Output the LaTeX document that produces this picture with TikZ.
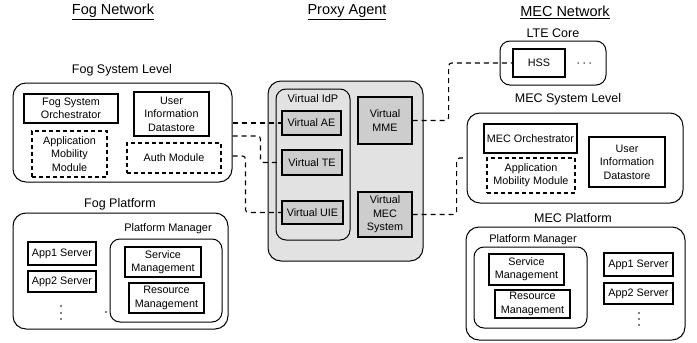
\documentclass[tikz,border=0pt]{standalone}
\usepackage{fontspec}
\setmainfont{Liberation Sans}
\usetikzlibrary{calc}
\definecolor{proxyfill}{HTML}{E2E2E2}
\definecolor{vfill}{HTML}{CDCDCD}
\begin{document}
\begin{tikzpicture}[x=1pt,y=-1pt,
  corners/.style n args={4}{at={({(#1+#3)/2},{(#2+#4)/2})}, minimum width={#3-#1}, minimum height={#4-#2}},
  group/.style={draw, rounded corners=13pt, line width=1pt, inner sep=0pt},
  sgroup/.style={draw, rounded corners=10pt, line width=1pt, inner sep=0pt},
  box/.style={draw, line width=1.3pt, inner sep=0pt, align=center, font=\fontsize{10.8}{13.4}\selectfont},
  dbox/.style={box, dash pattern=on 4pt off 3pt},
  vbox/.style={box, fill=vfill},
  conn/.style={draw, line width=1.1pt, dash pattern=on 5pt off 4pt, rounded corners=3pt},
  title/.style={font=\fontsize{14.5}{16}\selectfont},
  glabel/.style={font=\fontsize{12.5}{14}\selectfont},
  slabel/.style={font=\fontsize{11}{13}\selectfont},
  dotmark/.style={circle, fill=black, inner sep=0pt, minimum size=1.8pt}]
\useasboundingbox (0,0) rectangle (697,343);

% titles
\node[title] (tfog) at (113,12) {\underline{Fog Network}};
\node[title] (tproxy) at (347,12) {\underline{Proxy Agent}};
\node[title] (tmec) at (565,12) {\underline{MEC Network}};

% Fog System Level
\node[glabel] (lfogsys) at (122,70) {Fog System Level};
\node[group, corners={13}{83}{232}{182}] (fogsys) {};
\node[box, corners={24}{94}{118}{123}] (fogorch) {Fog System\\Orchestrator};
\node[box, corners={134}{92}{209}{136}] (foguid) {User\\Information\\Datastore};
\node[dbox, corners={32}{131}{107}{177}] (fogamm) {Application\\Mobility\\Module};
\node[dbox, corners={127}{143}{221}{173}] (fogauth) {Auth Module};

% Fog Platform
\node[glabel] (lfogplat) at (120,204) {Fog Platform};
\node[group, corners={13}{213}{228}{329}] (fogplat) {};
\node[slabel] (lfogpm) at (168,229) {Platform Manager};
\node[sgroup, corners={110}{239}{222}{322}] (fogpm) {};
\node[box, corners={125}{247}{201}{277}] (fogsm) {Service\\Management};
\node[box, corners={129}{283}{204}{313}] (fogrm) {Resource\\Management};
\node[box, corners={28}{242}{96}{265}] (fogapp1) {App1 Server};
\node[box, corners={28}{271}{96}{292}] (fogapp2) {App2 Server};
\node[dotmark] (fogd1) at (61,306) {};
\node[dotmark] (fogd2) at (61,313) {};
\node[dotmark] (fogd3) at (61,319) {};
\node[dotmark] (fogdot) at (106,312) {};

% Proxy Agent
\node[group, fill=proxyfill, corners={268}{81}{423}{261}] (proxy) {};
\node[sgroup, fill=proxyfill, corners={276}{89}{350}{240}] (idp) {};
\node[slabel] (lidp) at (313,99) {Virtual IdP};
\node[vbox, corners={282}{111}{341}{135}] (vae) {Virtual AE};
\node[vbox, corners={282}{150}{342}{175}] (vte) {Virtual TE};
\node[vbox, corners={282}{201}{343}{224}] (vuie) {Virtual UIE};
\node[vbox, corners={358}{97}{412}{144}] (vmme) {Virtual\\MME};
\node[vbox, corners={358}{192}{412}{237}] (vmec) {Virtual\\MEC\\System};

% LTE Core
\node[glabel] (llte) at (553,33) {LTE Core};
\node[sgroup, corners={500}{41}{606}{85}] (lte) {};
\node[box, corners={513}{49}{565}{77}] (hss) {HSS};
\node[dotmark, minimum size=1.5pt] (lted1) at (578,63) {};
\node[dotmark, minimum size=1.5pt] (lted2) at (584,63) {};
\node[dotmark, minimum size=1.5pt] (lted3) at (590,63) {};

% MEC System Level
\node[glabel] (lmecsys) at (568,99) {MEC System Level};
\node[group, corners={467}{113}{683}{203}] (mecsys) {};
\node[box, corners={484}{124}{577}{153}] (mecorch) {MEC Orchestrator};
\node[dbox, corners={487}{158}{575}{193}] (mecamm) {Application\\Mobility Module};
\node[box, corners={589}{137}{665}{187}] (mecuid) {User\\Information\\Datastore};

% MEC Platform
\node[glabel] (lmecplat) at (573,218) {MEC Platform};
\node[group, corners={466}{227}{685}{340}] (mecplat) {};
\node[slabel] (lmecpm) at (533,240) {Platform Manager};
\node[sgroup, corners={474}{247}{587}{328}] (mecpm) {};
\node[box, corners={489}{254}{564}{285}] (mecsm) {Service\\Management};
\node[box, corners={495}{290}{570}{318}] (mecrm) {Resource\\Management};
\node[box, corners={604}{253}{673}{276}] (mecapp1) {App1 Server};
\node[box, corners={604}{283}{673}{304}] (mecapp2) {App2 Server};
\node[dotmark] (mecd1) at (639,313) {};
\node[dotmark] (mecd2) at (639,319) {};
\node[dotmark] (mecd3) at (639,325) {};

% connectors
\draw[conn] (fogsys.east |- vae.west) -- (vae.west);
\draw[conn] ([yshift=-3.5pt]fogsys.east) -- ++(28,0) |- (vte.west);
\draw[conn] ([yshift=-23.5pt]fogsys.east) -- ++(13,0) |- (vuie.west);
\draw[conn] (vmme.east) -- ++(36,0) |- (hss.west);
\draw[conn] (vmec.east) -- ++(44,0) |- (mecsys.west);
\end{tikzpicture}
\end{document}
